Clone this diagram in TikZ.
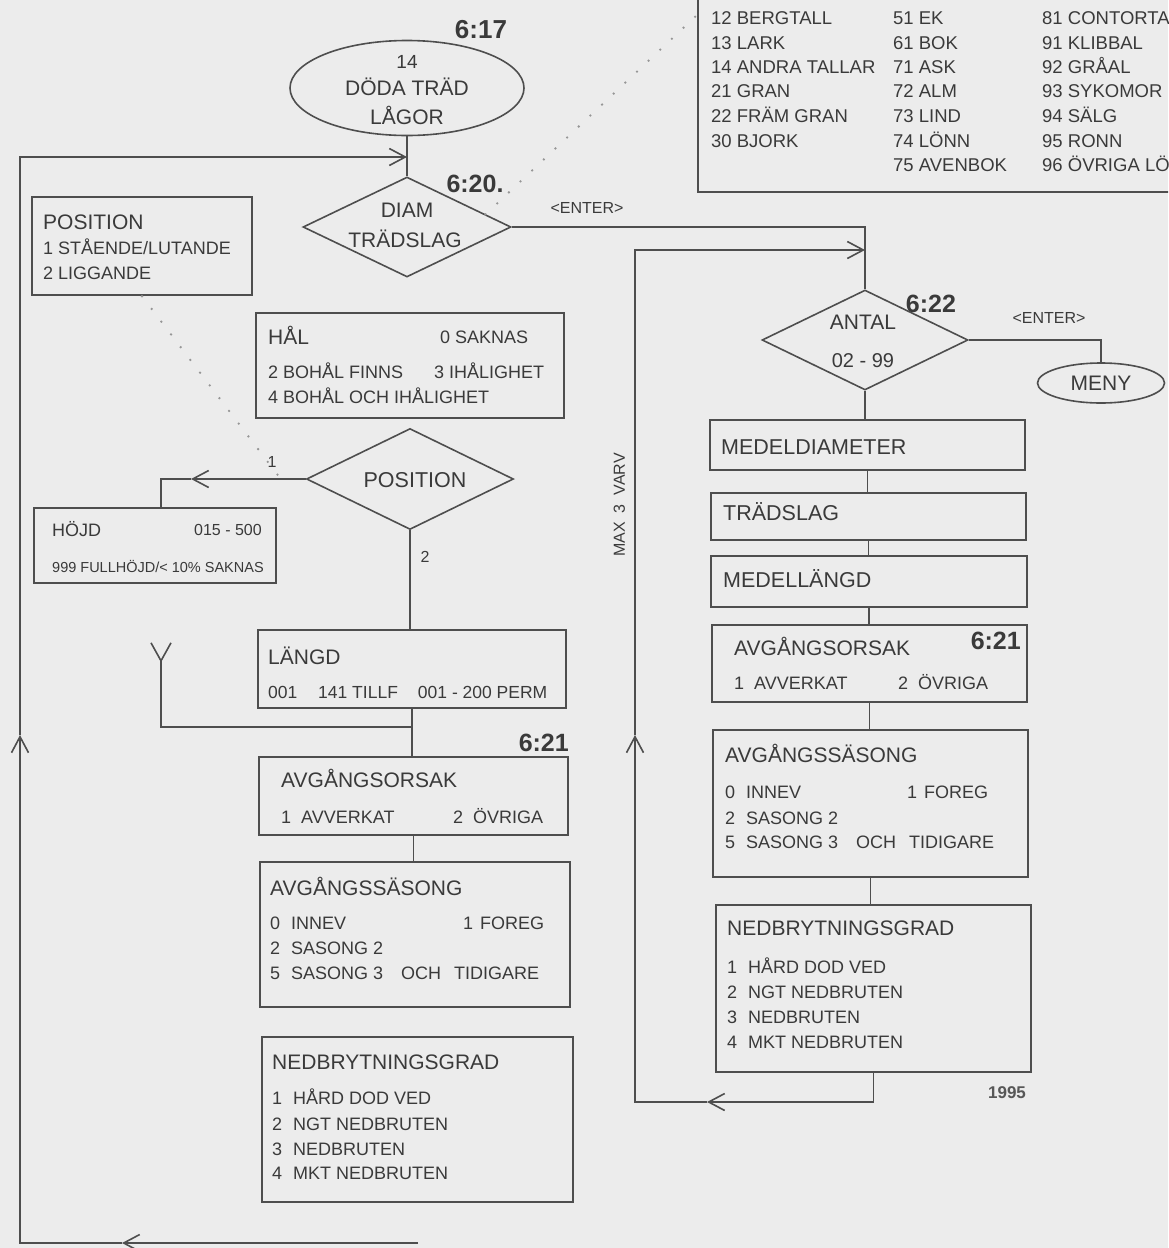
\documentclass[tikz,border=0pt]{standalone}
\usepackage{fontspec}
\setmainfont{Liberation Sans}
\usetikzlibrary{shapes.geometric,arrows.meta,calc}
\definecolor{bg}{RGB}{236,236,236}
\definecolor{ink}{RGB}{58,58,58}
\definecolor{lc}{RGB}{78,78,78}
\definecolor{dotc}{RGB}{150,150,150}
\newcommand{\fsz}[1]{\fontsize{#1}{#1}\selectfont}
\newcommand{\nb}[2]{\makebox[#1][l]{#2}}
\begin{document}
\begin{tikzpicture}[x=1pt,y=-1pt,
  ln/.style={draw=lc,line width=1.6pt},
  box/.style={draw=lc,line width=1.6pt,rectangle,inner sep=0pt},
  thickbox/.style={box,line width=2.4pt},
  dia/.style={draw=lc,line width=1.6pt,diamond,inner sep=0pt},
  oval/.style={draw=lc,line width=1.6pt,ellipse,inner sep=0pt},
  txt/.style={inner sep=0pt,text=ink,font=\fsz{18},text height=12.9pt,text depth=0pt},
  itm/.style={txt,anchor=west},
  ttl/.style={txt,font=\fsz{21},text height=15pt},
  ttlw/.style={ttl,anchor=west},
  tab/.style={txt,anchor=west,font=\fsz{18.5},text height=13.3pt},
  sm/.style={txt,font=\fsz{16},text height=11.5pt},
  num/.style={txt,font=\fsz{25}\bfseries,text height=18pt},
  dots/.style={draw=dotc,line width=2.6pt,line cap=round,dash pattern=on 0pt off 16pt},
  >={Straight Barb[length=16pt,width=17pt]},
]
\useasboundingbox (0,0) rectangle (1168,1248);
\clip (0,0) rectangle (1168,1248);
\fill[bg] (0,0) rectangle (1168,1248);

% ---------- species table ----------
\node[thickbox,minimum width=600pt,minimum height=260pt,anchor=south west] (tbl) at (697,193) {};
\node[tab] (t11) at (711,-6) {11 TALL};
\node[tab] (t12) at (711,18) {12 BERGTALL};
\node[tab] (t13) at (711,43) {13 LARK};
\node[tab] (t14) at (711,67) {14 ANDRA TALLAR};
\node[tab] (t21) at (711,91) {21 GRAN};
\node[tab] (t22) at (711,116) {22 FRÄM GRAN};
\node[tab] (t30) at (711,141) {30 BJORK};
\node[tab] (t51) at (893,18) {51 EK};
\node[tab] (t61) at (893,43) {61 BOK};
\node[tab] (t71) at (893,67) {71 ASK};
\node[tab] (t72) at (893,91) {72 ALM};
\node[tab] (t73) at (893,116) {73 LIND};
\node[tab] (t74) at (893,141) {74 LÖNN};
\node[tab] (t75) at (893,165) {75 AVENBOK};
\node[tab] (t81) at (1042,18) {81 CONTORTA};
\node[tab] (t91) at (1042,43) {91 KLIBBAL};
\node[tab] (t92) at (1042,67) {92 GRÅAL};
\node[tab] (t93) at (1042,91) {93 SYKOMOR};
\node[tab] (t94) at (1042,116) {94 SÄLG};
\node[tab] (t95) at (1042,141) {95 RONN};
\node[tab] (t96) at (1042,165) {96 ÖVRIGA LÖV};

% ---------- start ----------
\node[num,font=\fsz{26}\bfseries] (n617) at (481,29) {6:17};
\node[oval,minimum width=234pt,minimum height=95pt] (start) at (407,88) {};
\node[txt,font=\fsz{19},text height=13.6pt] (s1) at (407,62) {14};
\node[ttl] (s2) at (407,88) {DÖDA TRÄD};
\node[ttl] (s3) at (407,117) {LÅGOR};

% ---------- DIAM / TRÄDSLAG ----------
\node[dia,minimum width=208pt,minimum height=100pt] (diam) at (407,227) {};
\node[ttl] (dm1) at (407,210) {DIAM};
\node[ttl] (dm2) at (405,240) {TRÄDSLAG};
\node[num] (n620) at (475,183) {6:20.};
\node[sm] (ent1) at (587,208) {<ENTER>};

% ---------- position legend ----------
\node[thickbox,minimum width=220pt,minimum height=98pt] (plg) at (142,246) {};
\node[ttlw] (plg1) at (43,222) {POSITION};
\node[itm] (plg2) at (43,248) {1 STÅENDE/LUTANDE};
\node[itm] (plg3) at (43,273) {2 LIGGANDE};

% ---------- HÅL ----------
\node[box,minimum width=308pt,minimum height=105pt] (hal) at (410,365.5) {};
\node[ttlw] (hal1) at (268,337) {HÅL};
\node[itm] (hal2) at (440,337) {0 SAKNAS};
\node[itm] (hal3) at (268,372) {2 BOHÅL FINNS};
\node[itm] (hal4) at (434,372) {3 IHÅLIGHET};
\node[itm] (hal5) at (268,397) {4 BOHÅL OCH IHÅLIGHET};

% ---------- POSITION decision ----------
\node[dia,minimum width=207pt,minimum height=101pt] (posd) at (410,479) {};
\node[txt,font=\fsz{21.5},text height=15.4pt] (posdt) at (415,480) {POSITION};
\node[sm] (lab1) at (272,462) {1};
\node[sm] (lab2) at (425,557) {2};

% ---------- HÖJD ----------
\node[box,minimum width=242pt,minimum height=75pt] (hojd) at (155,545.5) {};
\node[itm] (hj1) at (52,530) {HÖJD};
\node[sm,anchor=east] (hj2) at (262,530) {015 - 500};
\node[txt,anchor=west,font=\fsz{14.5},text height=10.4pt] (hj3) at (52,567) {999 FULLHÖJD/< 10\% SAKNAS};

% ---------- left column ----------
\node[box,minimum width=308pt,minimum height=78pt] (laengd) at (412,669) {};
\node[ttlw] (lg1) at (268,657) {LÄNGD};
\node[txt,anchor=west,font=\fsz{17.5},text height=12.5pt] (lg2) at (268,692) {\nb{50pt}{001}141 TILLF\hspace{20pt}001 - 200 PERM};

\node[num,anchor=east] (n621a) at (569,742) {6:21};
\node[box,minimum width=309pt,minimum height=78pt] (aos1) at (413.5,796) {};
\node[ttlw] (ao1) at (281,780) {AVGÅNGSORSAK};
\node[itm] (ao2) at (281,817) {\nb{20pt}{1}AVVERKAT};
\node[itm] (ao3) at (453,817) {\nb{20pt}{2}ÖVRIGA};

\node[box,minimum width=310pt,minimum height=145pt] (ass1) at (415,934.5) {};
\node[ttlw] (as1) at (270,888) {AVGÅNGSSÄSONG};
\node[itm] (as2) at (270,923) {\nb{21pt}{0}INNEV};
\node[itm] (as3) at (463,923) {\nb{17pt}{1}FOREG};
\node[itm] (as4) at (270,948) {\nb{21pt}{2}SASONG 2};
\node[itm] (as5) at (270,973) {\nb{21pt}{5}\nb{110pt}{SASONG 3}\nb{53pt}{OCH}TIDIGARE};

\node[box,minimum width=311pt,minimum height=165pt] (nbg1) at (417.5,1119.5) {};
\node[ttlw] (nb1) at (272,1062) {NEDBRYTNINGSGRAD};
\node[itm] (nb2) at (272,1098) {\nb{21pt}{1}HÅRD DOD VED};
\node[itm] (nb3) at (272,1124) {\nb{21pt}{2}NGT NEDBRUTEN};
\node[itm] (nb4) at (272,1149) {\nb{21pt}{3}NEDBRUTEN};
\node[itm] (nb5) at (272,1173) {\nb{21pt}{4}MKT NEDBRUTEN};

% ---------- right column ----------
\node[dia,minimum width=206pt,minimum height=100pt] (antal) at (865,340) {};
\node[ttl] (an1) at (863,322) {ANTAL};
\node[txt,font=\fsz{20},text height=14.3pt] (an2) at (863,360) {02 - 99};
\node[num] (n622) at (931,303) {6:22};
\node[sm] (ent2) at (1049,318) {<ENTER>};
\node[oval,minimum width=127pt,minimum height=40pt,text=ink,font=\fsz{21}] (meny) at (1101,383) {MENY};

\node[box,minimum width=315pt,minimum height=50pt] (md) at (867.5,445) {};
\node[txt,anchor=west,font=\fsz{21.5},text height=15.4pt] (mdt) at (721,447) {MEDELDIAMETER};
\node[box,minimum width=315pt,minimum height=47pt] (ts) at (868.5,516.5) {};
\node[txt,anchor=west,font=\fsz{21.5},text height=15.4pt] (tst) at (723,513) {TRÄDSLAG};
\node[box,minimum width=316pt,minimum height=51pt] (ml) at (869,581.5) {};
\node[txt,anchor=west,font=\fsz{21.5},text height=15.4pt] (mlt) at (723,580) {MEDELLÄNGD};

\node[box,minimum width=315pt,minimum height=77pt] (aos2) at (869.5,663.5) {};
\node[ttlw] (bo1) at (734,648) {AVGÅNGSORSAK};
\node[num,anchor=east] (n621b) at (1021,640) {6:21};
\node[itm] (bo2) at (734,683) {\nb{20pt}{1}AVVERKAT};
\node[itm] (bo3) at (898,683) {\nb{20pt}{2}ÖVRIGA};

\node[box,minimum width=315pt,minimum height=147pt] (ass2) at (870.5,803.5) {};
\node[ttlw] (bs1) at (725,755) {AVGÅNGSSÄSONG};
\node[itm] (bs2) at (725,792) {\nb{21pt}{0}INNEV};
\node[itm] (bs3) at (907,792) {\nb{17pt}{1}FOREG};
\node[itm] (bs4) at (725,818) {\nb{21pt}{2}SASONG 2};
\node[itm] (bs5) at (725,842) {\nb{21pt}{5}\nb{110pt}{SASONG 3}\nb{53pt}{OCH}TIDIGARE};

\node[box,minimum width=315pt,minimum height=167pt] (nbg2) at (873.5,988.5) {};
\node[ttlw] (nc1) at (727,928) {NEDBRYTNINGSGRAD};
\node[itm] (nc2) at (727,967) {\nb{21pt}{1}HÅRD DOD VED};
\node[itm] (nc3) at (727,992) {\nb{21pt}{2}NGT NEDBRUTEN};
\node[itm] (nc4) at (727,1017) {\nb{21pt}{3}NEDBRUTEN};
\node[itm] (nc5) at (727,1042) {\nb{21pt}{4}MKT NEDBRUTEN};
\node[txt,font=\fsz{17}\bfseries,text height=12.2pt,text=ink!85] (yr) at (1007,1092) {1995};

\node[sm,rotate=90] (maxv) at (619,505) {MAX\ \ 3\ \ VARV};

% ---------- connectors ----------
\draw[ln] (start.south) -- (diam.north);
\draw[ln] (diam.east) -| (antal.north);

% left loop
\coordinate (jn1) at (407,157);
\coordinate (lb0) at (418,1243);
\coordinate (lb1) at (122,1243);
\coordinate (lb2) at (20,1243);
\coordinate (lb3) at (20,735);
\coordinate (lb4) at (20,157);
\draw[ln,->] (lb0) -- (lb1);
\draw[ln,->] (lb1) -- (lb2) -- (lb3);
\draw[ln,->] (lb3) -- (lb4) -- (jn1);

% dotted references
\coordinate (d1) at ($(diam.north)!0.75!(diam.east)$);
\coordinate (d2) at (697,15);
\draw[dots] (d1) -- (d2);
\coordinate (p1) at (280,478);
\draw[dots] (plg.south) -- (p1);

% position branches
\coordinate (pa) at (191,479);
\coordinate (pb) at (161,479);
\draw[ln,->] (posd.west) -- (pa);
\draw[ln] (pa) -- (pb) -- (pb |- hojd.north);
\draw[ln] (posd.south) -- (posd.south |- laengd.north);
\draw[ln] (laengd.south) -- (laengd.south |- aos1.north);
\coordinate (jn2) at (412,727);
\coordinate (yb) at (161,727);
\coordinate (yy) at (161,642);
\draw[ln,-{Straight Barb[reversed,length=18pt,width=20pt]}] (jn2) -- (yb) -- (yy);
\draw[ln] (aos1.south) -- (aos1.south |- ass1.north);

% right column
\draw[ln] (antal.east) -| (meny.north);
\draw[ln] (antal.south) -- (antal.south |- md.north);
\draw[ln] (md.south) -- (md.south |- ts.north);
\draw[ln] (ts.south) -- (ts.south |- ml.north);
\draw[ln] (ml.south) -- (ml.south |- aos2.north);
\draw[ln] (aos2.south) -- (aos2.south |- ass2.north);
\draw[ln] (ass2.south) -- (ass2.south |- nbg2.north);

% right loop
\coordinate (r0) at (873.5,1102);
\coordinate (r1) at (707,1102);
\coordinate (r2) at (635,1102);
\coordinate (r3) at (635,735);
\coordinate (r4) at (635,250);
\coordinate (r5) at (865,250);
\draw[ln] (nbg2.south) -- (r0);
\draw[ln,->] (r0) -- (r1);
\draw[ln,->] (r1) -- (r2) -- (r3);
\draw[ln,->] (r3) -- (r4) -- (r5);
\end{tikzpicture}
\end{document}
